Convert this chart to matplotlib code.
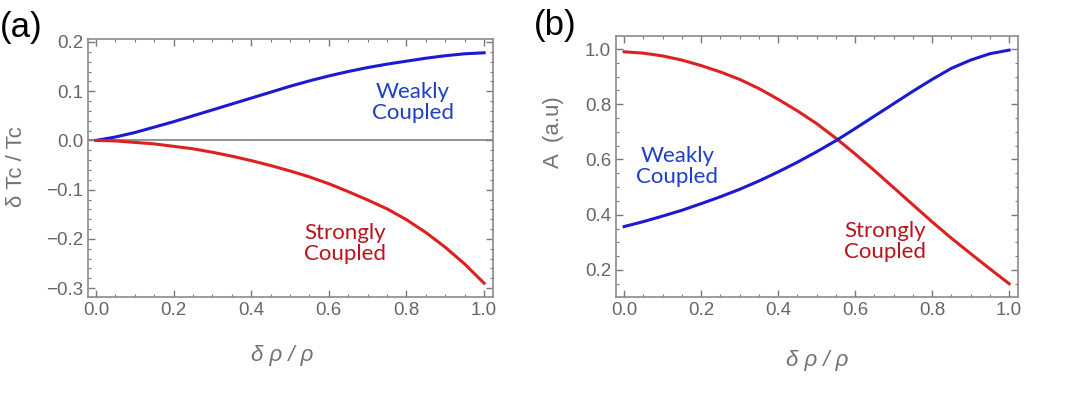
import numpy as np
import matplotlib
matplotlib.use("Agg")
import matplotlib.pyplot as plt
from matplotlib.ticker import MultipleLocator

# data
x = [0.0, 0.05, 0.1, 0.15, 0.2, 0.25, 0.3, 0.35, 0.4, 0.45, 0.5,
     0.55, 0.6, 0.65, 0.7, 0.75, 0.8, 0.85, 0.9, 0.95, 1.0]

tc_weak = [0.0, 0.007, 0.016, 0.027, 0.038, 0.050, 0.062, 0.074, 0.086, 0.098, 0.110,
           0.121, 0.131, 0.140, 0.148, 0.155, 0.161, 0.167, 0.172, 0.176, 0.178]
tc_strong = [0.0, -0.001, -0.004, -0.007, -0.012, -0.017, -0.024, -0.032, -0.041, -0.051, -0.062,
             -0.074, -0.088, -0.104, -0.121, -0.139, -0.161, -0.187, -0.217, -0.251, -0.290]

amp_weak = [0.357, 0.375, 0.395, 0.416, 0.440, 0.465, 0.492, 0.522, 0.555, 0.590, 0.628,
            0.668, 0.712, 0.757, 0.802, 0.847, 0.890, 0.930, 0.960, 0.983, 0.996]
amp_strong = [0.990, 0.985, 0.975, 0.960, 0.940, 0.917, 0.890, 0.857, 0.818, 0.776, 0.730,
              0.677, 0.620, 0.560, 0.498, 0.436, 0.374, 0.315, 0.259, 0.204, 0.150]

BLUE = "#1a1ad0"
RED = "#dd2020"
BLUE_TXT = "#1f3fc4"
RED_TXT = "#b8141c"
GREY = "#737373"

plt.rcParams["font.family"] = ["Liberation Sans", "DejaVu Sans"]

fig = plt.figure(figsize=(10.8, 3.96), dpi=100)
ax1 = fig.add_axes([0.0815, 0.25, 0.375, 0.6515])
ax2 = fig.add_axes([0.5704, 0.25, 0.3722, 0.659])


def style(ax, xmaj, xmin, ymaj, ymin):
    for s in ax.spines.values():
        s.set_color("#8a8a8a")
        s.set_linewidth(1.2)
    ax.xaxis.set_major_locator(MultipleLocator(xmaj))
    ax.xaxis.set_minor_locator(MultipleLocator(xmin))
    ax.yaxis.set_major_locator(MultipleLocator(ymaj))
    ax.yaxis.set_minor_locator(MultipleLocator(ymin))
    ax.tick_params(which="both", direction="in", top=True, right=True,
                   color="#7a7a7a", labelcolor="#666666", labelsize=13.5)
    ax.tick_params(which="major", length=5, width=1)
    ax.tick_params(which="minor", length=2.5, width=0.8)


# (a)
ax1.axhline(0, color="#808080", lw=1.2, zorder=1)
ax1.plot(x, tc_weak, color=BLUE, lw=2.2, zorder=3)
ax1.plot(x, tc_strong, color=RED, lw=2.2, zorder=3)
ax1.set_xlim(-0.0206, 1.023)
ax1.set_ylim(-0.318, 0.206)
style(ax1, 0.2, 0.05, 0.1, 0.02)
ax1.set_xticks([0, 0.2, 0.4, 0.6, 0.8, 1.0])
ax1.set_xticklabels(["0.0", "0.2", "0.4", "0.6", "0.8", "1.0"])
ax1.set_yticks([-0.3, -0.2, -0.1, 0.0, 0.1, 0.2])
ax1.set_yticklabels(["\u22120.3", "\u22120.2", "\u22120.1", "0.0", "0.1", "0.2"])
ax1.text(0.817, 0.077, "Weakly\nCoupled", color=BLUE_TXT, fontsize=16,
         family="Lato", ha="center", va="center", linespacing=1.05)
ax1.text(0.642, -0.21, "Strongly\nCoupled", color=RED_TXT, fontsize=16,
         family="Lato", ha="center", va="center", linespacing=1.05)
ax1.set_ylabel("\u03b4 Tc / Tc", fontsize=16, color=GREY)
ax1.yaxis.set_label_coords(-0.15, 0.504)
ax1.set_xlabel("\u03b4 \u03c1 / \u03c1", fontsize=16, color=GREY, style="italic")
ax1.xaxis.set_label_coords(0.48, -0.186)

# (b)
ax2.plot(x, amp_strong, color=RED, lw=2.2, zorder=3)
ax2.plot(x, amp_weak, color=BLUE, lw=2.2, zorder=3)
ax2.set_xlim(-0.021, 1.023)
ax2.set_ylim(0.102, 1.047)
style(ax2, 0.2, 0.05, 0.2, 0.05)
ax2.set_xticks([0, 0.2, 0.4, 0.6, 0.8, 1.0])
ax2.set_xticklabels(["0.0", "0.2", "0.4", "0.6", "0.8", "1.0"])
ax2.set_yticks([0.2, 0.4, 0.6, 0.8, 1.0])
ax2.set_yticklabels(["0.2", "0.4", "0.6", "0.8", "1.0"])
ax2.text(0.138, 0.576, "Weakly\nCoupled", color=BLUE_TXT, fontsize=16,
         family="Lato", ha="center", va="center", linespacing=1.05)
ax2.text(0.678, 0.302, "Strongly\nCoupled", color=RED_TXT, fontsize=16,
         family="Lato", ha="center", va="center", linespacing=1.05)
ax2.set_ylabel("A  (a.u)", fontsize=16, color=GREY)
ax2.yaxis.set_label_coords(-0.13, 0.63)
ax2.set_xlabel("\u03b4 \u03c1 / \u03c1", fontsize=16, color=GREY, style="italic")
ax2.xaxis.set_label_coords(0.5, -0.203)

fig.text(0.0, 0.93, "(a)", fontsize=25, color="black", va="center", ha="left")
fig.text(0.494, 0.935, "(b)", fontsize=25, color="black", va="center", ha="left")

fig.savefig("out.png", dpi=100)
